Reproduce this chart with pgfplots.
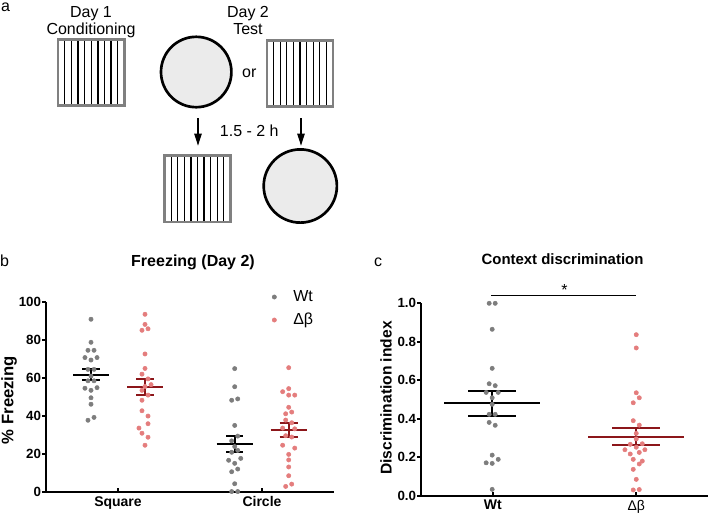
\documentclass[border=0pt]{standalone}
\usepackage{fontspec}
\setmainfont{Liberation Sans}
\usepackage{pgfplots}
\pgfplotsset{compat=1.18}
\usetikzlibrary{arrows.meta}

\definecolor{dotgray}{RGB}{125,125,125}
\definecolor{dotpink}{RGB}{228,125,125}
\definecolor{meanred}{RGB}{140,22,26}
\definecolor{cagegray}{RGB}{128,128,128}
\definecolor{roomfill}{RGB}{235,235,235}

\pgfplotsset{
  dotplot/.style={
    scale only axis, clip=false,
    axis lines=left,
    every outer x axis line/.append style={-},
    every outer y axis line/.append style={-},
    axis line style={-, line width=1.5pt, black},
    tick align=outside, major tick length=3pt,
    ytick style={line width=1.5pt, black},
    xtick style={draw=none},
    xtick={1,2},
    /pgf/number format/assume math mode=true,
    yticklabel style={font=\fontsize{10}{12}\selectfont\bfseries, inner xsep=0.5pt},
    xticklabel style={font=\fontsize{10.5}{12}\selectfont\bfseries, inner ysep=0pt},
  },
  pts/.style={only marks, mark=*, mark size=1.6pt, color=#1},
  sem/.style={line width=1.6pt, color=#1, unbounded coords=jump, forget plot},
}

% cage with vertical bars: x1 y1 x2 y2 (px)
\newcommand\cage[4]{%
  \fill[white] (#1,#2) rectangle (#3,#4);
  \foreach \k in {1,...,9}
    \draw[line width=1pt] ({#1+\k*(#3-#1)/10},#2) -- ({#1+\k*(#3-#1)/10},#4);
  \draw[cagegray, line width=2pt] (#1,#2) rectangle (#3,#4);
}

\begin{document}
\begin{tikzpicture}
\path[use as bounding box] (0pt,0pt) rectangle (531.75pt,-386.25pt);

\begin{scope}[x=0.75pt,y=-0.75pt, font=\fontsize{12}{14}\selectfont]
  % panel a
  \node[anchor=base] at (5.5,11.5) {a};
  \node[anchor=base] at (91,17.3) {Day 1};
  \node[anchor=base] at (91,34.3) {Conditioning};
  \node[anchor=base] at (248,17.3) {Day 2};
  \node[anchor=base] at (248,34.3) {Test};
  \node[anchor=base] at (249.3,77.3) {or};
  \node[anchor=base] at (249.3,136.7) {1.5 - 2 h};
  \cage{58}{39.6}{124.4}{105.4}
  \cage{267}{40.3}{333}{106.4}
  \cage{164.6}{155.6}{230.4}{222}
  \draw[line width=2pt, fill=roomfill] (196.2,72) circle (35.2);
  \draw[line width=2pt, fill=roomfill] (300.3,186) circle (36.6);
  \draw[line width=1pt, -{Triangle[length=9pt,width=5.5pt]}] (198,118.3) -- (198,145.7);
  \draw[line width=1pt, -{Triangle[length=9pt,width=5.5pt]}] (301,118.3) -- (301,145.7);
  % panel letters and titles
  \node[anchor=base] at (4.5,266) {b};
  \node[anchor=base] at (378,266) {c};
  \node[anchor=base, font=\fontsize{12}{14}\selectfont\bfseries] at (193,266) {Freezing (Day 2)};
  \node[anchor=base, font=\fontsize{11.2}{14}\selectfont\bfseries] at (562.5,264) {Context discrimination};
  \node[rotate=90, font=\fontsize{12.5}{14}\selectfont\bfseries] at (9,400) {\% Freezing};
  \node[rotate=90, font=\fontsize{11.7}{14}\selectfont\bfseries] at (386,398) {Discrimination index};
\end{scope}

% panel b
\begin{axis}[dotplot,
  at={(34.5pt,-369.225pt)}, anchor=south west,
  width=216pt, height=142.95pt,
  xmin=0.5, xmax=2.5, ymin=0, ymax=100,
  ytick={0,20,40,60,80,100},
  xticklabels={Square,Circle},
  legend style={draw=none, fill=none, at={(axis cs:2.069,107.5)}, anchor=north west,
    inner sep=0pt, row sep=3.25pt, font=\fontsize{12}{14}\selectfont,
    nodes={text height=9pt, text depth=3pt, inner sep=1pt}},
  legend cell align=left,
  legend image code/.code={\draw[#1] plot coordinates {(0pt,0pt)}; \path (0pt,0pt) (13pt,0pt);},
]
\addplot[pts=dotgray] coordinates {
  (0.8125,90.8) (0.8125,78.7) (0.7915,74.5) (0.8335,74.5) (0.7705,70.7)
  (0.8545,70.7) (0.8125,69.4) (0.7915,64.5) (0.8335,64.5) (0.8125,61.0)
  (0.7915,58.5) (0.8335,58.5) (0.7705,54.6) (0.8545,54.9) (0.8125,53.5)
  (0.8125,49.6) (0.8125,46.2) (0.8335,39.3) (0.7915,37.8)
  (1.8104,64.9) (1.8104,55.4) (1.7894,48.3) (1.8314,49.0) (1.8104,35.1)
  (1.8314,29.5) (1.7894,27.0) (1.8104,24.0) (1.8314,22.0) (1.7894,21.0)
  (1.8524,17.8) (1.7684,16.8) (1.8104,15.2) (1.8314,12.2) (1.7894,10.8)
  (1.8104,4.5) (1.7894,0.4) (1.8314,0.4)
};
\addplot[pts=dotpink] coordinates {
  (1.1875,93.4) (1.1875,88.1) (1.1665,85.0) (1.2085,85.8) (1.1875,72.6)
  (1.1875,65.0) (1.1665,62.0) (1.2085,59.5) (1.2295,56.5) (1.1875,55.5)
  (1.1665,53.5) (1.2085,51.0) (1.1665,48.3) (1.1665,42.8) (1.2085,40.0)
  (1.2085,36.0) (1.1455,33.7) (1.1665,31.0) (1.2085,28.9) (1.1875,24.7)
  (2.1854,65.4) (2.1854,54.4) (2.1434,52.8) (2.1854,51.0) (2.2274,51.0)
  (2.1854,44.6) (2.1644,41.2) (2.2064,42.1) (2.1644,37.9) (2.2064,36.5)
  (2.1434,33.7) (2.2274,33.3) (2.1644,29.7) (2.2064,29.0) (2.1434,24.7)
  (2.2274,23.2) (2.1854,19.9) (2.1854,17.0) (2.1854,13.3) (2.1854,8.7)
  (2.2064,4.3) (2.1644,3.1)
};
\legend{Wt, Δβ}
% mean and SEM
\addplot[sem=black] coordinates {
  (0.6875,61.7) (0.9375,61.7) (nan,nan)
  (0.8125,58.8) (0.8125,64.5) (nan,nan)
  (0.7525,58.8) (0.8725,58.8) (nan,nan)
  (0.7525,64.5) (0.8725,64.5) (nan,nan)
  (1.6854,25.3) (1.9354,25.3) (nan,nan)
  (1.8104,21.0) (1.8104,29.5) (nan,nan)
  (1.7504,21.0) (1.8704,21.0) (nan,nan)
  (1.7504,29.5) (1.8704,29.5)
};
\addplot[sem=meanred] coordinates {
  (1.0625,55.4) (1.3125,55.4) (nan,nan)
  (1.1875,51.0) (1.1875,59.6) (nan,nan)
  (1.125,51.0) (1.25,51.0) (nan,nan)
  (1.125,59.6) (1.25,59.6) (nan,nan)
  (2.0604,32.5) (2.3104,32.5) (nan,nan)
  (2.1854,28.9) (2.1854,36.2) (nan,nan)
  (2.1229,28.9) (2.2479,28.9) (nan,nan)
  (2.1229,36.2) (2.2479,36.2)
};
\draw[line width=1.5pt] (axis cs:1,0) -- ++(0pt,3pt);
\draw[line width=1.5pt] (axis cs:2,0) -- ++(0pt,3pt);
\end{axis}

% panel c
\begin{axis}[dotplot,
  at={(315.75pt,-371.775pt)}, anchor=south west,
  width=215.25pt, height=144.3pt,
  xmin=0.5, xmax=2.5, ymin=0, ymax=1,
  ytick={0,0.2,0.4,0.6,0.8,1.0},
  yticklabels={0.0,0.2,0.4,0.6,0.8,1.0},
  xticklabels={Wt,{\mdseries Δβ}},
]
\addplot[pts=dotgray] coordinates {
  (0.975,1.0) (1.017,1.0) (0.996,0.865) (0.996,0.662) (0.975,0.582)
  (1.017,0.572) (0.954,0.537) (1.038,0.537) (0.996,0.509) (0.996,0.475)
  (0.975,0.423) (1.017,0.423) (0.975,0.381) (1.017,0.366) (0.996,0.211)
  (1.038,0.189) (0.954,0.171) (0.996,0.168) (0.996,0.033)
};
\addplot[pts=dotpink] coordinates {
  (2.0,0.837) (2.0,0.768) (2.0,0.535) (2.021,0.509) (1.979,0.483)
  (1.979,0.390) (2.021,0.367) (2.0,0.324) (2.0,0.295) (1.958,0.267)
  (2.042,0.270) (2.0,0.252) (1.921,0.239) (2.06,0.239) (1.958,0.217)
  (2.021,0.225) (1.979,0.189) (2.042,0.180) (2.021,0.165) (1.979,0.137)
  (2.0,0.085) (1.979,0.030) (2.021,0.032)
};
\addplot[sem=black] coordinates {
  (0.661,0.48) (1.331,0.48) (nan,nan)
  (0.996,0.416) (0.996,0.544) (nan,nan)
  (0.829,0.416) (1.163,0.416) (nan,nan)
  (0.829,0.544) (1.163,0.544)
};
\addplot[sem=meanred] coordinates {
  (1.666,0.305) (2.334,0.305) (nan,nan)
  (2.0,0.262) (2.0,0.352) (nan,nan)
  (1.833,0.262) (2.167,0.262) (nan,nan)
  (1.833,0.352) (2.167,0.352)
};
\addplot[black, line width=0.75pt, forget plot] coordinates {(0.99,1.038) (2.0,1.038)};
\node[anchor=base, font=\fontsize{12}{14}\selectfont] at (axis cs:1.5,1.042) {*};
\draw[line width=1.5pt] (axis cs:1,0) -- ++(0pt,3pt);
\draw[line width=1.5pt] (axis cs:2,0) -- ++(0pt,3pt);
\end{axis}
\end{tikzpicture}
\end{document}
